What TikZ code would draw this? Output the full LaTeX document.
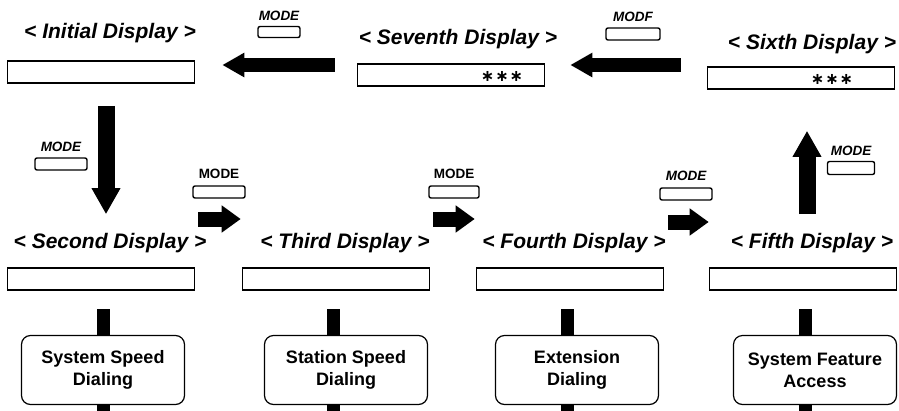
\documentclass[tikz,border=0pt]{standalone}
\usepackage{fontspec}
\setmainfont{Liberation Sans}
\newfontfamily\symfont{DejaVu Sans}
\usetikzlibrary{arrows.meta,positioning}
\tikzset{
  disptitle/.style={font=\fontsize{21}{24}\selectfont\bfseries\itshape, inner sep=0pt},
  lcd/.style={draw, line width=1.6pt, minimum width=187pt, minimum height=22pt, inner sep=0pt},
  stars/.style={font=\symfont\fontsize{16}{16}\selectfont\bfseries, inner sep=0pt},
  func/.style={draw, rounded corners=9pt, line width=1.2pt, fill=white, minimum width=163pt,
    minimum height=69pt, align=center, font=\fontsize{18}{22}\selectfont\bfseries},
  modetext/.style={font=\fontsize{13.5}{15}\selectfont\bfseries\itshape, inner sep=0pt},
  modekey/.style={draw, rounded corners=2pt, line width=1.4pt, inner sep=0pt},
  bigarrow/.style={line width=14pt, -{Triangle[width=23pt,length=22pt]}},
  vertarrow/.style={line width=17pt, -{Triangle[width=27pt,length=26pt]}},
  smallarrow/.style={line width=15pt, -{Triangle[width=26pt,length=19pt]}},
  linkbar/.style={line width=13pt},
}
\begin{document}
\begin{tikzpicture}[x=1pt, y=-1pt, line join=miter]
\useasboundingbox (0,0) rectangle (899,410);
%Tieu de
\foreach \n/\x/\y/\lbl in {iniT/110/33/Initial, sevT/458/39/Seventh, sixT/812/44/Sixth,
  secT/110/243/Second, thiT/345/243/Third, fouT/574/243/Fourth, fifT/812/243/Fifth}
\node[disptitle] (\n) at (\x,\y) {< \lbl\ Display >};
%Man hinh
\foreach \n/\x/\y in {ini/101/72, sev/451/75, six/801/78,
  sec/101/279, thi/336/279, fou/570/279, fif/803/279}
\node[lcd] (\n) at (\x,\y) {};
\node[stars] (sevS) at (502,76) {∗\kern1pt∗\kern1pt∗};
\node[stars] (sixS) at (832,79) {∗\kern1pt∗\kern1pt∗};
%Chuc nang
\foreach \n/\x/\o/\lbl in {secF/103/0/System Speed\\Dialing, thiF/346/-13/Station Speed\\Dialing,
  fouF/577/-10/Extension\\Dialing, fifF/815/-10/System Feature\\Access}
{
\node[func] (\n) at (\x,370) {\lbl};
\draw[linkbar] ([xshift=\o pt]\n.north) -- ++(0,-26);
\draw[linkbar] ([xshift=\o pt]\n.south) -- ++(0,6);
}
%Mui ten
\draw[bigarrow, shorten <=22pt, shorten >=27pt] ([yshift=10pt]sev.west) -- ([yshift=10pt]sev.west -| ini.east);
\draw[bigarrow, shorten <=26pt, shorten >=25pt] ([yshift=13pt]six.west) -- ([yshift=13pt]six.west -| sev.east);
\draw[vertarrow, shorten <=22pt, shorten >=53pt] ([xshift=5pt]ini.south) -- ([xshift=5pt]ini.south |- sec.north);
\draw[vertarrow, shorten <=53pt, shorten >=41pt] ([xshift=4pt]fif.north) -- ([xshift=4pt]fif.north |- six.south);
\draw[smallarrow, shorten <=3pt, shorten >=1pt] ([yshift=60pt]sec.east) -- ([yshift=60pt]sec.east -| thi.west);
\draw[smallarrow, shorten <=3pt, shorten >=1pt] ([yshift=60pt]thi.east) -- ([yshift=60pt]thi.east -| fou.west);
\draw[smallarrow, shorten <=4pt, shorten >=0pt] ([yshift=57pt]fou.east) -- ([yshift=57pt]fou.east -| fif.west);
%Phim MODE
\foreach \n/\x/\y/\w/\h in {kA/279/32/42/11, kB/633/34/54/12, kC/61/164/52/12,
  kD/219/192/52/12, kE/454/192/50/12, kF/686/194/52/12, kG/851/168/47/13}
\node[modekey, minimum width=\w pt, minimum height=\h pt] (\n) at (\x,\y) {};
\node[modetext, above=5pt of kA] {MODE};
\node[modetext, above=5pt of kB] {MODF};
\node[modetext, above=5pt of kC] {MODE};
\node[modetext, above=6pt of kD, font=\fontsize{13.5}{15}\selectfont\bfseries] {MODE};
\node[modetext, above=6pt of kE, font=\fontsize{13.5}{15}\selectfont\bfseries] {MODE};
\node[modetext, above=6pt of kF] {MODE};
\node[modetext, above=5pt of kG] {MODE};
\end{tikzpicture}
\end{document}
